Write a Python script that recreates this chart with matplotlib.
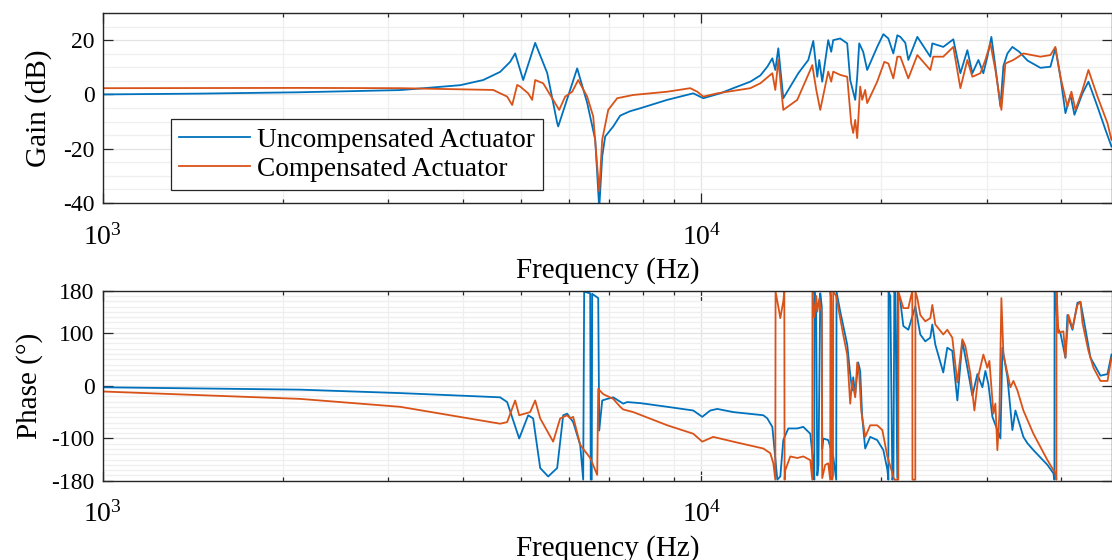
import matplotlib
matplotlib.use("Agg")
import matplotlib.pyplot as plt
from matplotlib.ticker import LogLocator, MultipleLocator, NullFormatter

plt.rcParams["font.family"] = ["Liberation Serif", "DejaVu Serif"]
plt.rcParams["mathtext.fontset"] = "custom"
plt.rcParams["mathtext.rm"] = "Liberation Serif"
plt.rcParams["mathtext.it"] = "Liberation Serif:italic"
plt.rcParams["axes.unicode_minus"] = False

# measured frequency response, Hz / dB / deg
freq_gain_unc = [1000, 1453, 2135, 3138, 3482, 3954, 4320, 4611, 4792, 4886,
                 5039, 5277, 5527, 5743, 5766, 6203, 6446, 6649, 6752, 6830,
                 6909, 7126, 7320, 7600, 7907, 8773, 9697, 10077, 10758, 11310,
                 12079, 12553, 12894,
                 13145, 13297, 13451, 13712, 14526, 15097, 15389, 15628, 15746, 15928,
                 16299, 16489, 16615, 17068, 17535, 17738, 18084, 18223, 18364, 18648,
                 18937, 19680, 20153, 20544, 20941, 21266, 21514, 21930, 22185, 22967,
                 24143, 24331, 25378, 26379, 27107, 27846, 28385, 29053, 29612, 30073,
                 30541, 31016, 31623, 31989, 32486, 33113, 34000, 35083, 36881, 38331,
                 39071, 39834, 40612, 41400, 42045, 43363, 44372, 45943, 47373, 48485]
gain_unc = [0.0, 0.3, 0.8, 1.6, 2.4, 3.4, 5.3, 8.3, 12.0, 15.1,
            5.3, 19.0, 7.9, -10.5, -11.8, 9.6, -3.1, -16.7, -42.0, -22.8,
            -15.5, -11.8, -7.8, -6.2, -5.1, -2.0, 0.4, -1.4, 0.4, 2.3,
            4.7, 7.0, 10.2,
            13.3, 9.0, 17.0, -1.4, 7.8, 12.7, 19.7, 6.5, 12.7, 4.7,
            20.0, 15.7, 20.0, 20.6, 18.8, 5.3, -2.0, 6.5, 18.8, 15.7,
            9.0, 17.5, 22.2, 20.6, 15.1, 21.8, 21.2, 19.0, 12.7, 21.2,
            13.9, 18.8, 17.5, 20.3, 7.8, 16.3, 7.8, 12.7, 7.8, 13.9,
            21.2, 10.2, -4.5, 10.5, 15.1, 17.5, 15.7, 12.5, 9.8, 10.2,
            17.0, 6.5, -6.9, -0.2, -7.5, 0.4, 4.7, -4.5, -13.0, -19.2]

freq_gain_comp = [1000, 2135, 3138, 4489, 4737, 4830, 4924, 4981, 5137, 5216,
                  5277, 5442, 5655, 5788, 5923, 6085, 6227, 6446, 6598, 6752,
                  6830, 6990, 7236, 7697, 8773, 9585, 9847, 10077, 10634, 12079,
                  12553, 13145, 13297, 13451, 13712, 14470, 15213, 15330, 15567, 15807,
                  16299, 16489, 16615, 17068, 17535, 17807, 17945, 18084, 18223, 18434,
                  18576, 18792, 18937, 19680, 20230, 20544, 20941, 21266, 21514, 22185,
                  22967, 24143, 24422, 25378, 26379, 27107, 27846, 28385, 29275, 29845,
                  30421, 31016, 31740, 32233, 33243, 34545, 36881, 38331, 39071, 39834,
                  40922, 41562, 42210, 43363, 44372, 45943, 47745, 48485]
gain_comp = [2.3, 2.4, 2.3, 1.65, -0.8, -3.9, 3.5, 2.9, 0.4, -2.0,
             5.3, 4.1, -2.0, -5.7, -0.8, 1.0, 5.3, -0.8, -8.1, -35.7,
             -16.7, -5.7, -1.4, -0.2, 1.0, 2.3, 1.0, -0.8, 0.4, 2.3,
             4.1, 7.8, 1.65, 12.7, -5.7, -2.0, 9.0, 10.8, 1.65, -5.7,
             8.4, 4.7, 8.4, 7.2, 6.5, -10.6, -14.2, -9.4, -16.1, 2.9,
             -2.0, 1.65, -3.2, 4.7, 12.0, 11.4, 5.9, 13.9, 13.9, 5.9,
             14.5, 9.0, 13.9, 13.9, 17.5, 2.3, 12.7, 6.5, 7.8, 12.7,
             18.8, 9.0, -5.7, 11.4, 12.7, 15.1, 13.9, 14.5, 17.5, 6.5,
             -4.5, 1.0, -5.7, 1.65, 9.0, -0.8, -10.6, -16.7]

freq_phase_unc = [1000, 2135, 3138, 4611, 4737, 4962, 5137, 5236, 5380, 5548,
                  5743, 5878, 5969, 6108, 6275, 6348, 6372, 6522, 6535, 6560,
                  6572, 6726, 6752, 6830, 6963, 7126, 7405, 7520, 7907, 8773,
                  9697, 10038, 10351, 10634, 11310, 12698, 12894, 13145, 13400, 13555,
                  13712, 13978, 14470, 14808, 15213, 15389, 15449, 15460, 15560, 15628,
                  15700, 15807, 15900, 15928, 15990, 16299, 16615, 16808, 16830, 17068,
                  17535, 17738, 17876, 17945, 18084, 18293, 18434, 18576, 18792, 19157,
                  19680, 20153, 20465, 20544, 20560, 20700, 20863, 20950, 21023, 21100,
                  21266, 21300, 21514, 21764, 22185, 22788, 23232, 23681, 24143, 24331,
                  24612, 25378, 25773, 26276, 26792, 27315, 27846, 28385, 28940, 29503,
                  29845, 30191, 30661, 31253, 31623, 31864, 32486, 33113, 33504, 34545,
                  35083, 35902, 37892, 38775, 38927, 38950, 39100, 39378, 39834, 40612,
                  40922, 41726, 42531, 43025, 43533, 44721, 46476, 47745, 48485]
phase_unc = [-3, -7.5, -14, -22, -31, -100, -56, -62, -156, -172,
             -156, -56, -53, -69, -112, -178, 178, 175, -178, -178,
             174, 166, -85, -28, -25, -22, -34, -31, -33, -40,
             -47, -59, -47, -44, -50, -56, -62, -78, -178, -172,
             -103, -81, -81, -78, -91, -147, -178, 178, 140, -170,
             -150, 175, 150, -120, -100, -103, -134, -178, 178, 141,
             78, 22, -9, 16, -16, 44, 28, -59, -119, -97,
             -103, -122, -159, -178, 178, 170, -178, -170, 178, 175,
             -175, 178, 160, 113, 106, 150, 97, 84, 91, 116,
             78, 25, 72, 66, -28, 84, 34, -19, 22, -3,
             28, 3, -59, -84, -100, 72, 16, -84, -47, -97,
             -109, -122, -150, -166, -178, 178, 170, 110, 100, 53,
             134, 106, 157, 159, 128, 53, 19, 22, 59]

freq_phase_comp = [1000, 2135, 3138, 4611, 4737, 4886, 4962, 5176, 5277, 5380,
                   5655, 5810, 5969, 6038, 6108, 6275, 6522, 6700, 6726, 6857,
                   7126, 7320, 7405, 7697, 8773, 9697, 10038, 10471, 11310, 12698,
                   13044, 13196, 13297, 13310, 13451, 13555, 13712, 13765, 13780, 13818,
                   14085, 14470, 14808, 15213, 15330, 15340, 15449, 15567, 15628, 15746,
                   15807, 15900, 15928, 16112, 16299, 16425, 16440, 16489, 16550, 16600,
                   16615, 16808, 16872, 17266, 17535, 17738, 17876, 18084, 18223, 18364,
                   18505, 18792, 19157, 19680, 20075, 20465, 20863, 21023, 21348, 21360,
                   21764, 22185, 22440, 22528, 22540, 22788, 22800, 22967, 23232, 23681,
                   24143, 24331, 24612, 25378, 25773, 26276, 26792, 27315, 27632, 28170,
                   28609, 29053, 29612, 30073, 30309, 30781, 31016, 31253, 31499, 31740,
                   31989, 32862, 33243, 33760, 34545, 35902, 37892, 39071, 39225, 39240,
                   39300, 39532, 40296, 40612, 41083, 41726, 42531, 43025, 43363, 44372,
                   45240, 46476, 47745, 48485]
phase_comp = [-11, -25, -40, -72, -69, -28, -56, -50, -28, -62,
              -106, -62, -56, -62, -59, -112, -137, -169, -6, -16,
              -25, -40, -45, -50, -75, -91, -106, -97, -106, -119,
              -128, -147, -178, 178, 150, 128, 160, 178, -178, -160,
              -134, -137, -134, -141, -178, 178, 130, 170, 140, 165,
              150, 140, -175, -150, -147, -178, 178, 160, -178, -170,
              178, 170, 159, 97, 59, -34, 9, -22, 44, 22,
              -47, -97, -75, -75, -84, -134, -166, -178, -178, 178,
              147, 147, 172, 178, -178, -178, 178, 166, 134, 122,
              128, 153, 116, 97, 106, 91, 6, 88, 75, 22,
              -47, 19, 59, 34, 47, -53, -34, -122, -53, 166,
              59, -3, 9, -9, -47, -91, -141, -166, -178, 178,
              166, 100, 103, 53, 134, 109, 153, 159, 119, 66,
              34, 9, 9, 53]

series_labels = ["Uncompensated Actuator", "Compensated Actuator"]
gain_ticks = [-40, -20, 0, 20]
phase_ticks = [-180, -100, 0, 100, 180]
freq_ticks = [1e3, 1e4]
freq_ticklabels = [r"$10^3$", r"$10^4$"]

blue = "#0072BD"
orange = "#D95319"
axis_color = "#262626"

fig = plt.figure(figsize=(11.12, 5.6), dpi=100)
ax_gain = fig.add_axes([0.0926, 0.6375, 0.9070, 0.3393])
ax_phase = fig.add_axes([0.0926, 0.1416, 0.9070, 0.3393])

ax_gain.plot(freq_gain_unc, gain_unc, color=blue, lw=1.3, label=series_labels[0])
ax_gain.plot(freq_gain_comp, gain_comp, color=orange, lw=1.3, label=series_labels[1])
ax_phase.plot(freq_phase_unc, phase_unc, color=blue, lw=1.3)
ax_phase.plot(freq_phase_comp, phase_comp, color=orange, lw=1.3)

for ax in (ax_gain, ax_phase):
    ax.set_xscale("log")
    ax.set_xlim(1000, 48500)
    ax.set_xticks(freq_ticks)
    ax.set_xticklabels(freq_ticklabels)
    ax.xaxis.set_minor_locator(LogLocator(base=10, subs=range(2, 10)))
    ax.xaxis.set_minor_formatter(NullFormatter())
    ax.set_axisbelow(True)
    ax.grid(True, which="major", color="#e3e3e3", lw=0.9)
    ax.grid(True, which="minor", color="#efefef", lw=0.9)
    ax.tick_params(which="both", direction="in", top=True, right=True,
                   colors=axis_color, labelcolor="black", labelsize=17)
    ax.tick_params(which="major", length=7, width=0.9)
    ax.tick_params(axis="x", which="minor", length=3, width=0.9)
    ax.tick_params(axis="y", which="minor", length=0)
    ax.tick_params(axis="x", which="major", pad=15, labelsize=20)
    ax.tick_params(axis="y", pad=6)
    for s in ax.spines.values():
        s.set_color(axis_color)
        s.set_linewidth(1.0)
    ax.set_xlabel("Frequency (Hz)", fontsize=21, labelpad=5)

ax_gain.set_ylim(-40, 30)
ax_gain.set_yticks(gain_ticks)
ax_gain.set_yticklabels([str(t) for t in gain_ticks])
ax_gain.yaxis.set_minor_locator(MultipleLocator(5))
ax_gain.set_ylabel("Gain (dB)", fontsize=21, labelpad=8)

ax_phase.set_ylim(-180, 180)
ax_phase.set_yticks(phase_ticks)
ax_phase.set_yticklabels([str(t) for t in phase_ticks])
ax_phase.yaxis.set_minor_locator(MultipleLocator(10))
ax_phase.set_ylabel("Phase (°)", fontsize=21, labelpad=6)

leg = ax_gain.legend(loc="lower left", bbox_to_anchor=(0.0675, 0.068),
                     fontsize=19.7, frameon=True, fancybox=False, framealpha=1,
                     edgecolor=axis_color, handlelength=2.6, handletextpad=0.25,
                     labelspacing=0.15, borderpad=0.3, borderaxespad=0)
leg.get_frame().set_linewidth(0.9)

fig.savefig("out.png", dpi=100)
